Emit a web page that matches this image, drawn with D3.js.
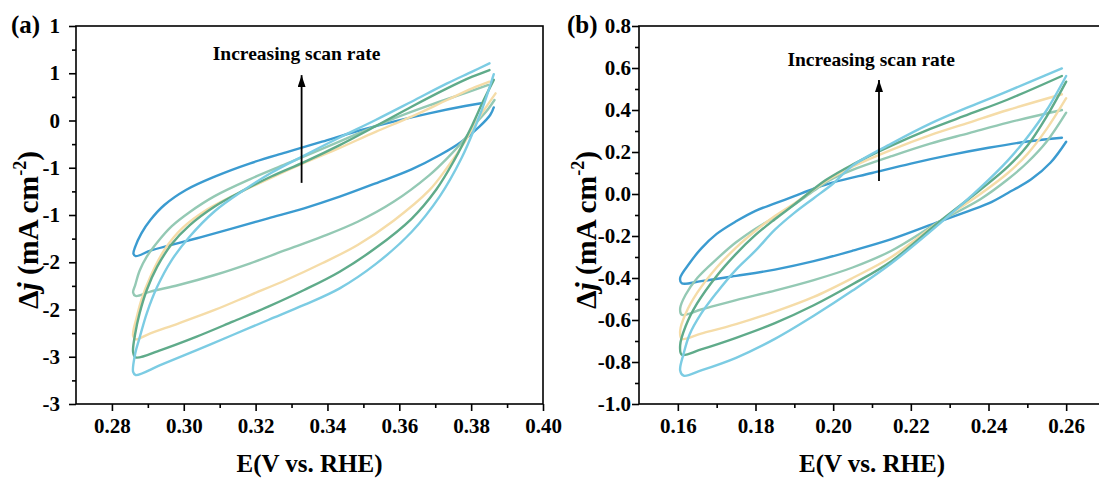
<!DOCTYPE html>
<html>
<head>
<meta charset="utf-8">
<script src="https://cdn.jsdelivr.net/npm/d3@7"></script>
<style>
  body { margin: 0; background: #fff; }
  svg { display: block; }
  svg text { font-family: "Liberation Serif", "Times New Roman", serif; font-weight: bold; }
</style>
</head>
<body>
<svg width="1099" height="479"></svg>
<script>
const width = 1099;
const height = 479;

// one colour per scan rate, slowest first
const rateColors = ["#3b9bd0", "#94c9b4", "#f5dca8", "#5fab8a", "#7ccce3"];

// panel (a): E (V vs. RHE), delta j (mA cm-2); upper and lower branch, left to right
const aUpper = [
  [[0.2860,-1.41],[0.2865,-1.335],[0.2882,-1.194],[0.2907,-1.053],[0.2946,-0.894],[0.3006,-0.735],[0.3086,-0.594],[0.3185,-0.453],[0.3285,-0.337],[0.3385,-0.224],[0.3484,-0.111],[0.3584,-0.012],[0.3683,0.076],[0.3783,0.153],[0.3828,0.182]],
  [[0.2859,-1.82],[0.2865,-1.74],[0.2877,-1.59],[0.2897,-1.44],[0.2926,-1.29],[0.2966,-1.12],[0.3016,-0.97],[0.3086,-0.80],[0.3185,-0.62],[0.3285,-0.46],[0.3385,-0.30],[0.3484,-0.14],[0.3584,0.02],[0.3683,0.16],[0.3783,0.29],[0.3848,0.376]],
  [[0.2859,-2.28],[0.2861,-2.20],[0.2867,-2.111],[0.2882,-1.899],[0.2907,-1.653],[0.2946,-1.370],[0.2996,-1.14],[0.3066,-0.94],[0.3146,-0.78],[0.3235,-0.62],[0.3335,-0.45],[0.3434,-0.29],[0.3534,-0.12],[0.3634,0.041],[0.3733,0.217],[0.3803,0.340],[0.3851,0.411]],
  [[0.2859,-2.45],[0.2865,-2.252],[0.2877,-2.041],[0.2897,-1.794],[0.2926,-1.547],[0.2966,-1.31],[0.3016,-1.11],[0.3086,-0.91],[0.3166,-0.74],[0.3245,-0.59],[0.3335,-0.44],[0.3434,-0.26],[0.3534,-0.06],[0.3634,0.146],[0.3733,0.340],[0.3803,0.464],[0.3851,0.534]],
  [[0.2859,-2.66],[0.2865,-2.464],[0.2877,-2.30],[0.2897,-2.04],[0.2926,-1.76],[0.2966,-1.48],[0.3016,-1.23],[0.3086,-0.96],[0.3166,-0.74],[0.3245,-0.55],[0.3335,-0.37],[0.3434,-0.18],[0.3534,0.005],[0.3634,0.199],[0.3733,0.393],[0.3803,0.517],[0.3851,0.605]]
];
const aLower = [
  [[0.2866,-1.435],[0.2907,-1.377],[0.2966,-1.317],[0.3046,-1.236],[0.3136,-1.141],[0.3235,-1.035],[0.3335,-0.929],[0.3434,-0.806],[0.3534,-0.665],[0.3634,-0.517],[0.3713,-0.365],[0.3773,-0.224],[0.3823,-0.065],[0.3853,0.058],[0.3863,0.139]],
  [[0.2866,-1.857],[0.2907,-1.811],[0.2986,-1.741],[0.3086,-1.635],[0.3185,-1.511],[0.3285,-1.370],[0.3385,-1.229],[0.3484,-1.071],[0.3584,-0.86],[0.3683,-0.58],[0.3733,-0.40],[0.3783,-0.19],[0.3813,-0.03],[0.3843,0.10],[0.3865,0.217]],
  [[0.2866,-2.316],[0.2907,-2.252],[0.2986,-2.146],[0.3086,-2.005],[0.3185,-1.847],[0.3285,-1.688],[0.3385,-1.511],[0.3484,-1.317],[0.3584,-1.06],[0.3683,-0.74],[0.3733,-0.50],[0.3783,-0.22],[0.3813,-0.02],[0.3843,0.15],[0.3868,0.287]],
  [[0.2866,-2.506],[0.2936,-2.429],[0.3036,-2.287],[0.3136,-2.129],[0.3235,-1.970],[0.3335,-1.794],[0.3434,-1.600],[0.3534,-1.35],[0.3634,-1.04],[0.3703,-0.73],[0.3753,-0.42],[0.3803,-0.05],[0.3833,0.20],[0.3863,0.43]],
  [[0.2866,-2.693],[0.2936,-2.587],[0.3036,-2.429],[0.3136,-2.270],[0.3235,-2.111],[0.3335,-1.952],[0.3434,-1.776],[0.3534,-1.52],[0.3634,-1.18],[0.3713,-0.80],[0.3773,-0.40],[0.3813,-0.05],[0.3838,0.20],[0.3863,0.49]]
];

// panel (b)
const bUpper = [
  [[0.1606,-0.40],[0.1630,-0.33],[0.1660,-0.26],[0.1700,-0.19],[0.1750,-0.13],[0.1800,-0.08],[0.1850,-0.045],[0.1900,-0.01],[0.1950,0.025],[0.2000,0.055],[0.2100,0.10],[0.2200,0.145],[0.2300,0.185],[0.2400,0.22],[0.2500,0.25],[0.2589,0.268]],
  [[0.1606,-0.545],[0.1620,-0.48],[0.1650,-0.40],[0.1700,-0.31],[0.1750,-0.23],[0.1800,-0.165],[0.1850,-0.11],[0.1900,-0.05],[0.1950,0.015],[0.1990,0.065],[0.2050,0.115],[0.2150,0.18],[0.2250,0.24],[0.2350,0.29],[0.2450,0.34],[0.2589,0.40]],
  [[0.1606,-0.65],[0.1620,-0.57],[0.1650,-0.47],[0.1700,-0.35],[0.1750,-0.255],[0.1800,-0.175],[0.1850,-0.105],[0.1900,-0.045],[0.1980,0.06],[0.2050,0.13],[0.2150,0.21],[0.2250,0.28],[0.2350,0.34],[0.2450,0.40],[0.2589,0.475]],
  [[0.1606,-0.72],[0.1620,-0.63],[0.1650,-0.52],[0.1700,-0.39],[0.1750,-0.285],[0.1800,-0.195],[0.1850,-0.12],[0.1900,-0.05],[0.1980,0.065],[0.2050,0.14],[0.2150,0.23],[0.2250,0.31],[0.2350,0.38],[0.2450,0.45],[0.2589,0.562]],
  [[0.1606,-0.84],[0.1615,-0.76],[0.1630,-0.67],[0.1660,-0.57],[0.1700,-0.47],[0.1750,-0.36],[0.1800,-0.27],[0.1850,-0.17],[0.1900,-0.09],[0.1950,-0.02],[0.2000,0.05],[0.2050,0.135],[0.2150,0.24],[0.2250,0.335],[0.2350,0.415],[0.2450,0.49],[0.2589,0.598]]
];
const bLower = [
  [[0.1610,-0.425],[0.1660,-0.415],[0.1750,-0.39],[0.1850,-0.36],[0.1950,-0.32],[0.2050,-0.27],[0.2150,-0.215],[0.2275,-0.13],[0.2350,-0.08],[0.2400,-0.045],[0.2450,0.005],[0.2510,0.07],[0.2560,0.15],[0.2600,0.249]],
  [[0.1610,-0.575],[0.1660,-0.55],[0.1750,-0.505],[0.1850,-0.46],[0.1950,-0.41],[0.2050,-0.35],[0.2150,-0.27],[0.2275,-0.13],[0.2379,-0.025],[0.2450,0.07],[0.2500,0.15],[0.2550,0.25],[0.2600,0.387]],
  [[0.1610,-0.69],[0.1660,-0.665],[0.1750,-0.62],[0.1850,-0.56],[0.1950,-0.49],[0.2050,-0.40],[0.2150,-0.30],[0.2275,-0.13],[0.2379,0.00],[0.2450,0.10],[0.2500,0.19],[0.2550,0.31],[0.2600,0.456]],
  [[0.1610,-0.765],[0.1660,-0.74],[0.1750,-0.685],[0.1850,-0.615],[0.1950,-0.53],[0.2050,-0.43],[0.2150,-0.32],[0.2275,-0.13],[0.2379,0.02],[0.2450,0.13],[0.2500,0.23],[0.2550,0.37],[0.2600,0.535]],
  [[0.1615,-0.865],[0.1660,-0.84],[0.1750,-0.78],[0.1850,-0.69],[0.1950,-0.58],[0.2050,-0.46],[0.2150,-0.33],[0.2275,-0.14],[0.2379,0.03],[0.2450,0.16],[0.2500,0.27],[0.2550,0.40],[0.2600,0.562]]
];

// ticks and labels
const aXTicks = [0.28, 0.30, 0.32, 0.34, 0.36, 0.38, 0.40];
const aXLabels = ["0.28", "0.30", "0.32", "0.34", "0.36", "0.38", "0.40"];
const aXMinor = [0.29, 0.31, 0.33, 0.35, 0.37, 0.39];
const aYTicks = [-3, -2.5, -2, -1.5, -1, -0.5, 0, 0.5, 1];
const aYLabels = ["-3", "-3", "-2", "-2", "-1", "-1", "0", "1", "1"];
const aYMinor = [-2.75, -2.25, -1.75, -1.25, -0.75, -0.25, 0.25, 0.75];

const bXTicks = [0.16, 0.18, 0.20, 0.22, 0.24, 0.26];
const bXLabels = ["0.16", "0.18", "0.20", "0.22", "0.24", "0.26"];
const bXMinor = [0.17, 0.19, 0.21, 0.23, 0.25];
const bYTicks = [-1.0, -0.8, -0.6, -0.4, -0.2, 0, 0.2, 0.4, 0.6, 0.8];
const bYLabels = ["-1.0", "-0.8", "-0.6", "-0.4", "-0.2", "0.0", "0.2", "0.4", "0.6", "0.8"];
const bYMinor = [-0.9, -0.7, -0.5, -0.3, -0.1, 0.1, 0.3, 0.5, 0.7];

// arrow: E, start j, end j; note anchor: E, j
const aArrow = [0.3328, -0.66, 0.48];
const aNote = [0.3314, 0.64];
const bArrow = [0.2118, 0.062, 0.543];
const bNote = [0.2098, 0.61];

const svg = d3.select("svg");

svg.append("defs").append("marker")
    .attr("id", "head")
    .attr("viewBox", "0 0 12 8")
    .attr("markerUnits", "userSpaceOnUse")
    .attr("markerWidth", 12)
    .attr("markerHeight", 8)
    .attr("refX", 12)
    .attr("refY", 4)
    .attr("orient", "auto")
  .append("path")
    .attr("d", "M0,0L12,4L0,8Z")
    .attr("fill", "#000");

function drawPanel(p) {
  const x = d3.scaleLinear().domain(p.xDomain).range(p.xRange);
  const y = d3.scaleLinear().domain(p.yDomain).range([404, 26]);
  const g = svg.append("g");

  const line = d3.line()
      .x(d => x(d[0]))
      .y(d => y(d[1]))
      .curve(d3.curveCatmullRom.alpha(0.5));

  p.upper.forEach((up, i) => {
    const pts = up.slice().reverse().concat(p.lower[i]);
    g.append("path")
        .attr("d", line(pts))
        .attr("fill", "none")
        .attr("stroke", rateColors[i])
        .attr("stroke-width", 2.4)
        .attr("stroke-linejoin", "round")
        .attr("stroke-linecap", "round");
  });

  const styleAxis = a => {
    a.select(".domain").remove();
    a.attr("font-size", 21).attr("font-family", null);
    a.selectAll("line").attr("stroke-width", 1.6);
  };

  g.append("g")
      .attr("transform", "translate(0,404)")
      .call(d3.axisBottom(x).tickValues(p.xTicks).tickFormat((d, i) => p.xLabels[i])
        .tickSize(7).tickPadding(7).tickSizeOuter(0))
      .call(styleAxis);
  g.append("g")
      .attr("transform", "translate(0,404)")
      .call(d3.axisBottom(x).tickValues(p.xMinor).tickFormat("").tickSize(4).tickSizeOuter(0))
      .call(styleAxis);
  g.append("g")
      .attr("transform", `translate(${p.xRange[0]},0)`)
      .call(d3.axisLeft(y).tickValues(p.yTicks).tickFormat((d, i) => p.yLabels[i])
        .tickSize(7).tickPadding(p.yPad).tickSizeOuter(0))
      .call(styleAxis);
  g.append("g")
      .attr("transform", `translate(${p.xRange[0]},0)`)
      .call(d3.axisLeft(y).tickValues(p.yMinor).tickFormat("").tickSize(4).tickSizeOuter(0))
      .call(styleAxis);

  g.append("rect")
      .attr("x", p.xRange[0])
      .attr("y", 26)
      .attr("width", p.xRange[1] - p.xRange[0])
      .attr("height", 378)
      .attr("fill", "none")
      .attr("stroke", "#000")
      .attr("stroke-width", 1.6);

  // arrow and note
  g.append("line")
      .attr("x1", x(p.arrow[0])).attr("x2", x(p.arrow[0]))
      .attr("y1", y(p.arrow[1])).attr("y2", y(p.arrow[2]))
      .attr("stroke", "#000")
      .attr("stroke-width", 1.8)
      .attr("marker-end", "url(#head)");
  g.append("text")
      .attr("x", x(p.note[0]))
      .attr("y", y(p.note[1]))
      .attr("text-anchor", "middle")
      .attr("font-size", 19.5)
      .text("Increasing scan rate");

  // axis titles
  const mid = (p.xRange[0] + p.xRange[1]) / 2;
  g.append("text")
      .attr("x", p.xTitleX || mid)
      .attr("y", 472)
      .attr("text-anchor", "middle")
      .attr("font-size", 25)
      .text("E(V vs. RHE)");

  const yt = g.append("text")
      .attr("transform", `translate(${p.yTitleX},230) rotate(-90)`)
      .attr("text-anchor", "middle")
      .attr("font-size", 29.5);
  yt.append("tspan").text("\u0394");
  yt.append("tspan").attr("font-style", "italic").text("j");
  yt.append("tspan").text(" (mA cm");
  yt.append("tspan").attr("font-size", 18).attr("dy", -12).text("-2");
  yt.append("tspan").attr("dy", 12).text(")");

  g.append("text")
      .attr("x", p.tagX)
      .attr("y", 33)
      .attr("font-size", 25)
      .text(p.tag);
}

drawPanel({
  tag: "(a)", tagX: 11,
  xDomain: [0.27, 0.40], xRange: [76, 543],
  yDomain: [-3, 1],
  xTicks: aXTicks, xLabels: aXLabels, xMinor: aXMinor,
  yTicks: aYTicks, yLabels: aYLabels, yMinor: aYMinor, yPad: 9,
  upper: aUpper, lower: aLower,
  arrow: aArrow, note: aNote,
  yTitleX: 38
});

drawPanel({
  tag: "(b)", tagX: 567,
  xDomain: [0.15, 0.27], xRange: [639, 1105],
  yDomain: [-1.0, 0.8],
  xTicks: bXTicks, xLabels: bXLabels, xMinor: bXMinor,
  yTicks: bYTicks, yLabels: bYLabels, yMinor: bYMinor, yPad: 1,
  upper: bUpper, lower: bLower,
  arrow: bArrow, note: bNote,
  yTitleX: 596, xTitleX: 872
});
</script>
</body>
</html>
